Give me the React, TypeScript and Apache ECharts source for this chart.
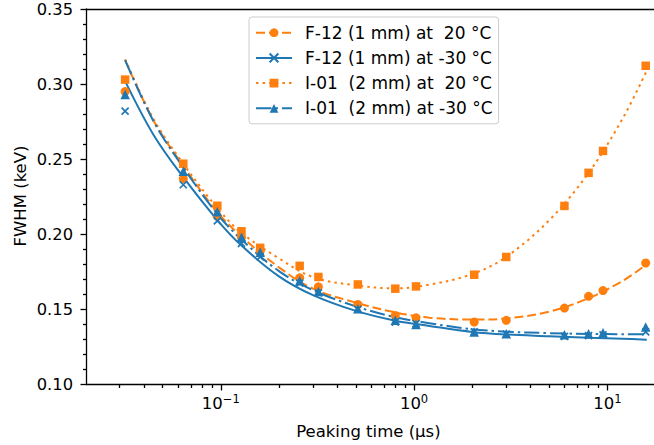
import { useEffect, useRef } from 'react';
import * as echarts from 'echarts';

// ---------- data ----------
const seriesNames = [
  'F-12 (1 mm) at  20 °C',
  'F-12 (1 mm) at -30 °C',
  'I-01  (2 mm) at  20 °C',
  'I-01  (2 mm) at -30 °C',
];

// measured points (peaking time in µs)
const peakingTimeUs = [0.032, 0.064, 0.096, 0.128, 0.16, 0.256, 0.32, 0.512, 0.8, 1.024, 2.048, 3.0, 6.0, 8.0, 9.5, 15.8];
const fwhmF12At20 = [0.295, 0.237, 0.212, 0.198, 0.189, 0.171, 0.165, 0.1533, 0.146, 0.1444, 0.1416, 0.1427, 0.1509, 0.1587, 0.1625, 0.1809];
const fwhmF12AtM30 = [0.282, 0.233, 0.209, 0.194, 0.185, 0.1675, 0.161, 0.150, 0.1415, 0.1405, 0.135, 0.1335, 0.132, 0.1325, 0.133, 0.135];
const fwhmI01At20 = [0.303, 0.247, 0.219, 0.202, 0.191, 0.179, 0.1716, 0.1666, 0.1638, 0.1653, 0.1731, 0.1849, 0.2189, 0.2409, 0.2555, 0.3122];
const fwhmI01AtM30 = [0.293, 0.242, 0.215, 0.198, 0.188, 0.169, 0.162, 0.1505, 0.1428, 0.140, 0.1349, 0.1338, 0.1331, 0.1338, 0.1345, 0.1382];

// fit curves
const fitTimeUs = [0.032, 0.045, 0.064, 0.096, 0.128, 0.2, 0.3, 0.5, 0.8, 1.2, 2, 3, 5, 8, 12, 16];
const fitF12At20 = [0.316, 0.2755, 0.2455, 0.2148, 0.1985, 0.178, 0.1638, 0.1545, 0.148, 0.1445, 0.1432, 0.144, 0.1485, 0.1575, 0.169, 0.18];
const fitF12AtM30 = [0.302, 0.266, 0.238, 0.2095, 0.1925, 0.172, 0.1595, 0.149, 0.1425, 0.139, 0.135, 0.1333, 0.1322, 0.1312, 0.1305, 0.1298];
const fitI01At20 = [0.3165, 0.2765, 0.247, 0.2175, 0.201, 0.184, 0.1715, 0.166, 0.164, 0.1665, 0.1735, 0.185, 0.2093, 0.2409, 0.277, 0.309];
const fitI01AtM30 = [0.316, 0.275, 0.2445, 0.2135, 0.1965, 0.1755, 0.1628, 0.152, 0.1448, 0.1408, 0.1368, 0.1352, 0.1342, 0.1337, 0.1335, 0.1335];

// axis ticks
const yTickLabels = ['0.10', '0.15', '0.20', '0.25', '0.30', '0.35'];
const xMajorExponents = [-1, 0, 1];
const xMinorMantissas = [2, 3, 4, 5, 6, 7, 8, 9];
const xMinorDecades = [0.01, 0.1, 1, 10];

// ---------- styles ----------
const FONT = '"DejaVu Sans", sans-serif';
const ORANGE = '#ff7f0e';
const BLUE = '#1f77b4';
const X_MIN = 0.0202;
const X_MAX = 20;
const CROSS = 'path://M0,0L10,10M10,0L0,10';

export default function App() {
  const ref = useRef<HTMLDivElement>(null);

  useEffect(() => {
    if (!ref.current) return;
    const chart = echarts.init(ref.current, undefined, { renderer: 'svg' });

    const logMin = Math.log10(X_MIN);
    const logMax = Math.log10(X_MAX);
    const minorLogTicks = xMinorDecades
      .flatMap((d) => xMinorMantissas.map((m) => Math.log10(m * d)))
      .filter((v) => v > logMin && v < logMax);

    const axisLineStyle = { color: '#000', width: 1.3 };

    const zip = (xs: number[], ys: number[]) => xs.map((x, i) => [x, ys[i]]);

    const fits = [
      { name: seriesNames[0], data: fitF12At20, color: ORANGE, dash: [9, 4], symbol: 'circle', size: 8.5, extra: {} },
      { name: seriesNames[1], data: fitF12AtM30, color: BLUE, dash: 'solid', symbol: CROSS, size: 6, extra: { borderColor: BLUE, borderWidth: 1.6 } },
      { name: seriesNames[2], data: fitI01At20, color: ORANGE, dash: [2.5, 4.1], symbol: 'rect', size: 8, extra: {} },
      { name: seriesNames[3], data: fitI01AtM30, color: BLUE, dash: [15.5, 4, 2.5, 4], symbol: 'triangle', size: 9, extra: {} },
    ];
    const points = [
      { name: seriesNames[0], data: fwhmF12At20, color: ORANGE, symbol: 'circle', size: 9, extra: {} },
      { name: seriesNames[1], data: fwhmF12AtM30, color: BLUE, symbol: CROSS, size: 7, extra: { borderColor: BLUE, borderWidth: 1.7 } },
      { name: seriesNames[2], data: fwhmI01At20, color: ORANGE, symbol: 'rect', size: 8.5, extra: {} },
      { name: seriesNames[3], data: fwhmI01AtM30, color: BLUE, symbol: 'triangle', size: 9.5, extra: {} },
    ];

    const series: any[] = [];
    points.forEach((p) => {
      series.push({
        type: 'scatter',
        name: p.name + ' data',
        xAxisIndex: 0,
        yAxisIndex: 0,
        data: zip(peakingTimeUs, p.data),
        symbol: p.symbol,
        symbolSize: p.size,
        itemStyle: { color: p.color, opacity: 1, ...p.extra },
        silent: true,
        z: 3,
      });
    });
    fits.forEach((f) => {
      series.push({
        type: 'line',
        name: f.name,
        xAxisIndex: 0,
        yAxisIndex: 0,
        data: zip(fitTimeUs, f.data),
        smooth: 0.35,
        showSymbol: false,
        symbol: f.symbol,
        symbolSize: f.size,
        lineStyle: { color: f.color, width: 2, type: f.dash },
        itemStyle: { color: f.color, ...f.extra },
        emphasis: { disabled: true },
        silent: true,
        z: 2,
      });
    });

    const option: any = {
      animation: false,
      backgroundColor: '#ffffff',
      textStyle: { fontFamily: FONT },
      grid: { left: 86.5, top: 9, width: 579, height: 375.5, containLabel: false, outerBoundsMode: 'none' },
      xAxis: [
        { type: 'log', logBase: 10, min: X_MIN, max: X_MAX, show: false },
        {
          type: 'value',
          min: logMin,
          max: logMax,
          position: 'bottom',
          axisLine: { show: true, onZero: false, lineStyle: axisLineStyle },
          axisTick: { show: true, customValues: xMajorExponents, length: 6, lineStyle: axisLineStyle },
          axisLabel: {
            customValues: xMajorExponents,
            margin: 8.5,
            color: '#000',
            formatter: (v: number) => `{b|10}{s|${v < 0 ? '\u2212' : ''}${Math.abs(Math.round(v))}}`,
            rich: {
              b: { fontFamily: FONT, fontSize: 16.5, lineHeight: 20, color: '#000' },
              s: { fontFamily: FONT, fontSize: 11.5, lineHeight: 14, verticalAlign: 'top', color: '#000' },
            },
          },
          splitLine: { show: false },
        },
        {
          type: 'value',
          min: logMin,
          max: logMax,
          position: 'bottom',
          axisLine: { show: false, onZero: false },
          axisTick: { show: true, customValues: minorLogTicks, length: 3.5, lineStyle: axisLineStyle },
          axisLabel: { show: false },
          splitLine: { show: false },
        },
        {
          type: 'value',
          min: logMin,
          max: logMax,
          position: 'top',
          axisLine: { show: true, onZero: false, lineStyle: axisLineStyle },
          axisTick: { show: false },
          axisLabel: { show: false },
          splitLine: { show: false },
        },
      ],
      yAxis: {
        type: 'value',
        min: 0.1,
        max: 0.35,
        interval: 0.05,
        axisLine: { show: true, onZero: false, lineStyle: axisLineStyle },
        axisTick: { show: true, length: 6, lineStyle: axisLineStyle },
        minorTick: { show: true, splitNumber: 5, length: 3.5, lineStyle: axisLineStyle },
        axisLabel: {
          margin: 13.5,
          fontFamily: FONT,
          fontSize: 16.3,
          color: '#000',
          formatter: (v: number) => yTickLabels[Math.round((v - 0.1) / 0.05)] ?? v.toFixed(2),
        },
        splitLine: { show: false },
      },
      legend: {
        data: seriesNames,
        orient: 'vertical',
        left: 249,
        top: 17,
        padding: [7.2, 6, 7, 6],
        itemWidth: 36,
        itemHeight: 11,
        itemGap: 8.2,
        backgroundColor: 'rgba(255,255,255,0.8)',
        borderColor: '#cccccc',
        borderWidth: 1,
        borderRadius: 3,
        textStyle: { fontFamily: FONT, fontSize: 17, color: '#000', padding: [0, 0, 0, 8] },
      },
      graphic: [
        {
          type: 'text',
          x: 368.4,
          y: 431,
          style: { text: 'Peaking time (µs)', font: `16.5px ${FONT}`, fill: '#000', align: 'center', verticalAlign: 'middle' },
        },
        {
          type: 'text',
          x: 20,
          y: 196,
          rotation: Math.PI / 2,
          style: { text: 'FWHM (keV)', font: `16.5px ${FONT}`, fill: '#000', align: 'center', verticalAlign: 'middle' },
        },
      ],
      series,
    };

    chart.setOption(option);
    return () => chart.dispose();
  }, []);

  return (
    <div
      ref={ref}
      style={{ position: 'fixed', left: 0, top: 0, width: 654, height: 445, background: '#fff' }}
    />
  );
}
